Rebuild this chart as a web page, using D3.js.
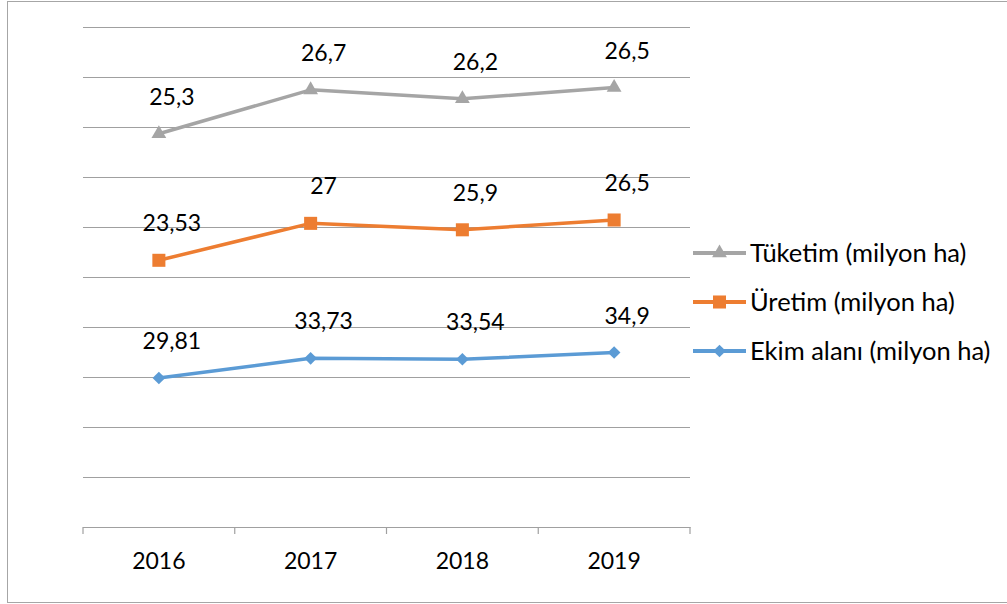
<!DOCTYPE html>
<html>
<head>
<meta charset="utf-8">
<script src="https://cdn.jsdelivr.net/npm/d3@7"></script>
<style>
  body { margin: 0; background: #fff; }
  svg { display: block; font-family: Lato, "Open Sans", sans-serif; }
</style>
</head>
<body>
<svg id="chart"></svg>
<script>
// values (stacked line chart)
const years = ["2016", "2017", "2018", "2019"];
const ekim = [29.81, 33.73, 33.54, 34.9];
const uretim = [23.53, 27, 25.9, 26.5];
const tuketim = [25.3, 26.7, 26.2, 26.5];
const seriesNames = ["Ekim alanı (milyon ha)", "Üretim (milyon ha)", "Tüketim (milyon ha)"];
const yTicks = [0, 10, 20, 30, 40, 50, 60, 70, 80, 90, 100];

const W = 1007, H = 604;
const margin = { top: 27, left: 83, right: 317, bottom: 77 };
const colors = ["#5b9bd5", "#ed7d31", "#a5a5a5"];
const keys = ["ekim", "uretim", "tuketim"];

const rows = years.map((y, i) => ({ year: y, ekim: ekim[i], uretim: uretim[i], tuketim: tuketim[i] }));

const svg = d3.select("#chart").attr("width", W).attr("height", H);

// outer frame
svg.append("rect")
  .attr("x", 7.5).attr("y", 1.5)
  .attr("width", 1100).attr("height", 601)
  .attr("fill", "none").attr("stroke", "#a6a6a6").attr("stroke-width", 1);

const x = d3.scaleBand()
  .domain(years)
  .range([margin.left, W - margin.right]);

const y = d3.scaleLinear()
  .domain([0, 100])
  .range([H - margin.bottom, margin.top]);

// gridlines
svg.append("g")
  .attr("transform", `translate(${margin.left},0)`)
  .call(d3.axisLeft(y).tickValues(yTicks).tickSize(-(W - margin.right - margin.left)).tickFormat(""))
  .call(g => g.select(".domain").remove())
  .call(g => g.selectAll("line").attr("stroke", "#a0a0a0").attr("stroke-width", 1.2));

// x axis
const xAxis = svg.append("g")
  .attr("transform", `translate(0,${y(0)})`)
  .call(d3.axisBottom(x).tickSize(0).tickPadding(26))
  .call(g => g.select(".domain").attr("stroke", "#a0a0a0").attr("stroke-width", 1.2))
  .call(g => g.selectAll("text").attr("font-size", 23).attr("fill", "#000").attr("font-family", "Lato"));

const bounds = years.map(d => x(d)).concat([x(years[years.length - 1]) + x.bandwidth()]);
xAxis.selectAll(".btick")
  .data(bounds)
  .join("line")
  .attr("class", "btick")
  .attr("x1", d => d).attr("x2", d => d)
  .attr("y1", 0).attr("y2", 7)
  .attr("stroke", "#a0a0a0").attr("stroke-width", 1.2);

const stacked = d3.stack().keys(keys)(rows);

const line = d3.line()
  .x(d => x(d.data.year) + x.bandwidth() / 2)
  .y(d => y(d[1]));

const markerPath = [
  d3.symbol(d3.symbolSquare, 80),
  d3.symbol(d3.symbolSquare, 170),
  d3.symbol(d3.symbolTriangle, 95)
];
const markerRotate = [45, 0, 0];

const groups = svg.selectAll(".series")
  .data(stacked)
  .join("g")
  .attr("class", "series");

groups.append("path")
  .attr("d", d => line(d))
  .attr("fill", "none")
  .attr("stroke", (d, i) => colors[i])
  .attr("stroke-width", 3.5)
  .attr("stroke-linejoin", "round");

groups.each(function(s, i) {
  d3.select(this).selectAll(".mk")
    .data(s)
    .join("path")
    .attr("class", "mk")
    .attr("d", markerPath[i])
    .attr("transform", d => `translate(${x(d.data.year) + x.bandwidth() / 2},${y(d[1])}) rotate(${markerRotate[i]})`)
    .attr("fill", colors[i]);

  d3.select(this).selectAll(".lbl")
    .data(s)
    .join("text")
    .attr("class", "lbl")
    .attr("x", d => x(d.data.year) + x.bandwidth() / 2 + 13)
    .attr("y", d => y(d[1]) - 37)
    .attr("dy", "0.35em")
    .attr("text-anchor", "middle")
    .attr("font-size", 23)
    .attr("fill", "#000")
    .text(d => String(d.data[s.key]).replace(".", ","));
});

// legend, top entry is the top series
const legend = svg.append("g").attr("transform", "translate(693,0)");
const legendRows = [2, 1, 0];
const legendY = d3.scalePoint().domain(legendRows).range([253, 351]);

legendRows.forEach(i => {
  const g = legend.append("g").attr("transform", `translate(0,${legendY(i)})`);
  g.append("line")
    .attr("x1", 0).attr("x2", 53)
    .attr("stroke", colors[i]).attr("stroke-width", 4);
  g.append("path")
    .attr("d", markerPath[i])
    .attr("transform", `translate(26.5,0) rotate(${markerRotate[i]})`)
    .attr("fill", colors[i]);
  g.append("text")
    .attr("x", 57)
    .attr("dy", "0.35em")
    .attr("font-size", 25.5)
    .attr("fill", "#000")
    .text(seriesNames[i]);
});
</script>
</body>
</html>
